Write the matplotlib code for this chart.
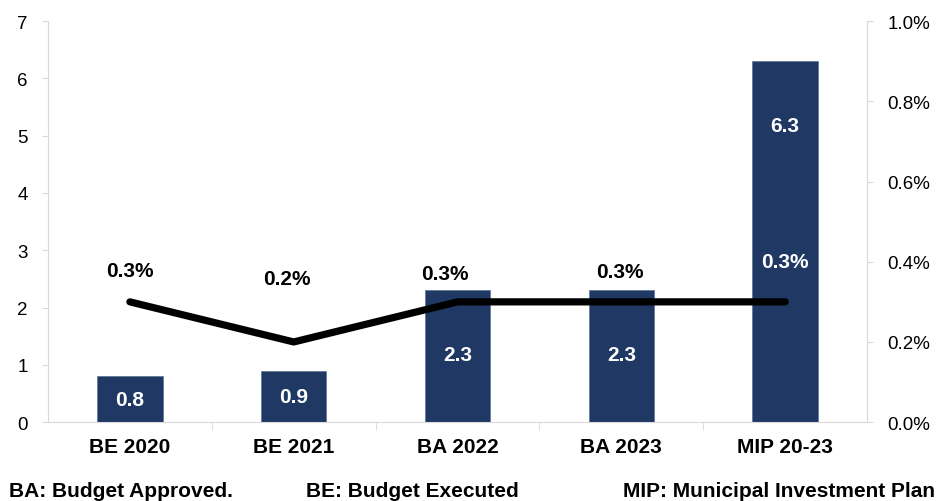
import matplotlib.pyplot as plt
from matplotlib.ticker import FuncFormatter, FixedLocator

categories = ['BE 2020', 'BE 2021', 'BA 2022', 'BA 2023', 'MIP 20-23']
investment = [0.8, 0.9, 2.3, 2.3, 6.3]
share_pct = [0.3, 0.2, 0.3, 0.3, 0.3]
footnotes = ['BA: Budget Approved.', 'BE: Budget Executed', 'MIP: Municipal Investment Plan']

navy = '#1f3864'
axis_grey = '#d9d9d9'

plt.rcParams['font.family'] = ['Liberation Sans', 'DejaVu Sans']

fig = plt.figure(figsize=(9.41, 5.02), dpi=100)
ax = fig.add_axes([0.051, 0.157, 0.8704, 0.799])
x = list(range(len(categories)))

# bars on the left axis
ax.bar(x, investment, width=0.4, color=navy, edgecolor='#5a7194', linewidth=0.5, zorder=2)
ax.set_xlim(-0.5, len(categories) - 0.5)
ax.set_ylim(0, 7)
ax.set_yticks(range(8))
ax.tick_params(axis='y', labelsize=13.5, length=4.5, color=axis_grey, pad=10)

# category names centred, ticks at category boundaries
ax.set_xticks(x)
ax.set_xticklabels(categories, fontweight='bold', fontsize=15)
ax.tick_params(axis='x', which='major', length=0, pad=11)
ax.xaxis.set_minor_locator(FixedLocator([i + 0.5 for i in x[:-1]]))
ax.tick_params(axis='x', which='minor', length=6, color=axis_grey)

for side in ['top', 'right']:
    ax.spines[side].set_visible(False)
for side in ['left', 'bottom']:
    ax.spines[side].set_color(axis_grey)

# value labels inside bars, kept near the top of tall bars
for xi, v in zip(x, investment):
    ax.text(xi, max(v / 2, v - 1.12), f'{v:.1f}', color='white', fontweight='bold',
            fontsize=15, ha='center', va='center', zorder=3)

# share line on the right axis
ax2 = ax.twinx()
ax2.plot(x, share_pct, color='black', linewidth=5.2, solid_capstyle='round', zorder=4)
ax2.set_ylim(0, 1.0)
ax2.set_yticks([0, 0.2, 0.4, 0.6, 0.8, 1.0])
ax2.yaxis.set_major_formatter(FuncFormatter(lambda v, _: f'{v:.1f}%'))
ax2.tick_params(axis='y', labelsize=13.5, length=4.5, color=axis_grey, pad=10)
for side in ['top', 'left', 'bottom']:
    ax2.spines[side].set_visible(False)
ax2.spines['right'].set_color(axis_grey)

# percentage labels above the line (the last one sits on the bar, so white)
label_shift = [(0, 31), (-7, 63), (-13, 28), (-1, 30), (0, 40)]
label_colors = ['black', 'black', 'black', 'black', 'white']
for xi, p, off, col in zip(x, share_pct, label_shift, label_colors):
    ax2.annotate(f'{p:.1f}%', (xi, p), xytext=off, textcoords='offset pixels',
                 ha='center', va='center', fontweight='bold', fontsize=15,
                 color=col, zorder=5)

# footnotes below the chart
foot_y = 1 - 492 / 502
fig.text(9 / 941, foot_y, footnotes[0], ha='left', va='center', fontweight='bold', fontsize=15)
fig.text(306 / 941, foot_y, footnotes[1], ha='left', va='center', fontweight='bold', fontsize=15)
fig.text(935 / 941, foot_y, footnotes[2], ha='right', va='center', fontweight='bold', fontsize=15)

fig.savefig('out.png', dpi=100)
